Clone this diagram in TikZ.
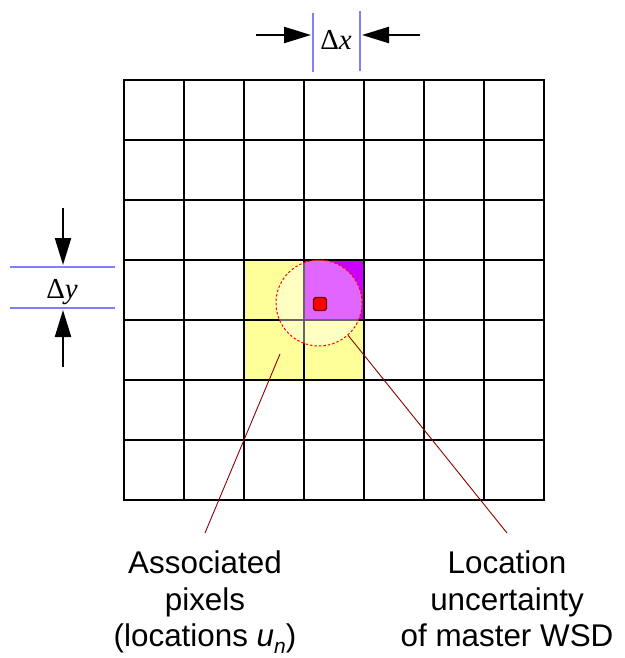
\documentclass[tikz,border=0pt]{standalone}
\usepackage{fontspec}
\setmainfont{Liberation Sans}
\newfontfamily\dimfont{Liberation Serif}
\usepackage{tikz}
\usetikzlibrary{arrows.meta}
\definecolor{pixyellow}{RGB}{255,255,153}
\definecolor{wsdviolet}{RGB}{204,0,255}
\definecolor{leadred}{RGB}{140,0,0}
\definecolor{dimblue}{RGB}{128,128,255}

\begin{document}
\begin{tikzpicture}[x=1bp, y=-1bp, >={Triangle[length=27bp,width=16bp]},
    gridline/.style={line width=2.8bp, line cap=rect},
    dimline/.style={dimblue, line width=1.4bp},
    dimarrow/.style={->, line width=2.2bp},
    dimlabel/.style={font=\dimfont\fontsize{29}{29}\selectfont, anchor=base, inner sep=0},
    leader/.style={leadred, line width=0.9bp},
    caption/.style={font=\fontsize{31.5}{36.5}\selectfont, align=center,
        anchor=north, inner xsep=0, inner ysep=18bp}]

\useasboundingbox (0,0) rectangle (625,658);

% Pixels

\fill[pixyellow] (244,260) rectangle (364,380);

\fill[wsdviolet] (304,260) rectangle (364,320);

% Grid

\foreach \i in {0,...,7} {
  \draw[gridline] (124+60*\i,80) -- (124+60*\i,500);
  \draw[gridline] (124,80+60*\i) -- (544,80+60*\i);
}

% Location uncertainty

\node[circle, minimum size=86bp, inner sep=0, fill=white, fill opacity=0.4,
      draw=red, draw opacity=1, line width=1bp,
      dash pattern=on 2.5bp off 2bp] (unc) at (319,303) {};

\node[rectangle, rounded corners=2.5bp, minimum size=13bp, inner sep=0,
      fill=red, draw=red!40!black, line width=1.2bp] (master) at (320,304) {};

% Delta x

\coordinate (dxleft) at (313,35);

\coordinate (dxright) at (360,35);

\draw[dimline] (dxleft) ++(0,-22) -- ++(0,59);

\draw[dimline] (dxright) ++(0,-24) -- ++(0,60);

\draw[dimarrow] (256,35) -- ([xshift=-2bp]dxleft);

\draw[dimarrow] (420,35) -- ([xshift=2bp]dxright);

\node[dimlabel] (dx) at (336,50) {Δ\textit{x}};

% Delta y

\coordinate (dytop) at (63,267);

\coordinate (dybot) at (63,308);

\draw[dimline] (10,267) -- (115,267);

\draw[dimline] (10,308) -- (115,308);

\draw[dimarrow] (63,208) -- ([yshift=2bp]dytop);

\draw[dimarrow] (63,367) -- ([yshift=-2bp]dybot);

\node[dimlabel] (dy) at (62,298) {Δ\textit{y}};

% Labels

\node[caption] (assoc) at (205,533)
  {Associated\\pixels\\(locations \textit{u}\raisebox{-0.22em}{\fontsize{21}{21}\selectfont\itshape n})};

\node[caption] (locunc) at (507,533) {Location\\uncertainty\\of master WSD};

\coordinate (assocpt) at (280,354);

\draw[leader] (assocpt) -- (assoc.north);

\draw[leader] (unc.-48) -- (locunc.north);

\end{tikzpicture}
\end{document}
